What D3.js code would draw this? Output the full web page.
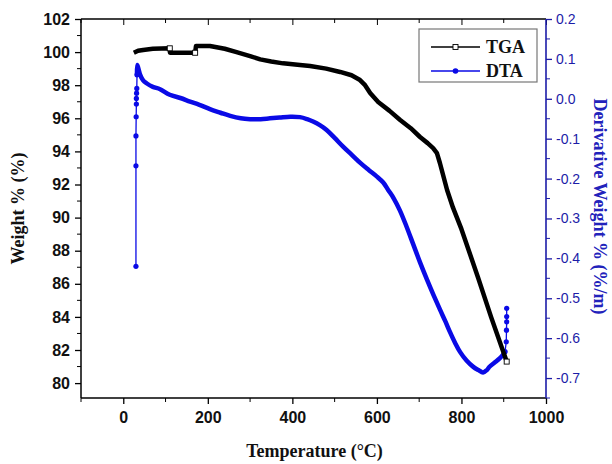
<!DOCTYPE html>
<html>
<head>
<meta charset="utf-8">
<script src="https://cdn.jsdelivr.net/npm/d3@7/dist/d3.min.js"></script>
<style>
  html, body { margin: 0; padding: 0; background: #fff; }
  svg { display: block; }
</style>
</head>
<body>
<svg id="chart" width="612" height="464"></svg>
<script>
// Thermogravimetric curve: temperature (°C) vs weight %
const tgaTemp = [25, 35, 47, 70, 110, 110.5, 140, 170, 172, 205, 240, 268, 300, 324, 350, 378, 418, 442, 480, 513, 540, 560, 572, 584, 603, 630, 655, 680, 702, 720, 733, 742, 749, 766, 780, 800, 839, 870, 907];
const tgaWeight = [99.96, 100.08, 100.13, 100.2, 100.23, 99.96, 99.96, 99.96, 100.37, 100.37, 100.2, 100.0, 99.76, 99.56, 99.43, 99.32, 99.22, 99.16, 99.0, 98.8, 98.6, 98.31, 98.0, 97.53, 96.99, 96.45, 95.9, 95.4, 94.87, 94.5, 94.2, 93.9, 93.3, 91.67, 90.6, 89.3, 86.4, 84.0, 81.3];
// indices of the TGA points that show an open square marker
const tgaMarked = [4, 7, 38];

// Derivative curve: temperature (°C) vs derivative weight % (%/m)
const dtaTemp = [30, 30, 30, 30.5, 31, 31, 31.5, 32, 32.5, 33, 36, 40, 47, 55, 70, 87, 110, 135, 158, 180, 205, 230, 253, 278, 300, 325, 347, 370, 395, 418, 435, 449, 465, 481, 500, 520, 540, 562, 580, 600, 615, 627, 640, 654, 670, 686, 702, 718, 734, 749, 762, 773, 785, 797, 812, 828, 840, 851, 860, 867, 880, 891, 898, 903, 906, 906.5, 907, 907, 907];
const dtaDeriv = [-0.42, -0.168, -0.093, -0.045, -0.013, 0.001, 0.014, 0.026, 0.06, 0.085, 0.075, 0.06, 0.046, 0.039, 0.03, 0.024, 0.01, 0.002, -0.007, -0.015, -0.026, -0.035, -0.043, -0.049, -0.051, -0.051, -0.049, -0.047, -0.045, -0.046, -0.051, -0.057, -0.066, -0.078, -0.098, -0.12, -0.14, -0.162, -0.178, -0.195, -0.21, -0.229, -0.25, -0.279, -0.32, -0.365, -0.41, -0.452, -0.492, -0.528, -0.558, -0.585, -0.612, -0.635, -0.656, -0.672, -0.68, -0.686, -0.68, -0.671, -0.66, -0.65, -0.642, -0.634, -0.609, -0.58, -0.559, -0.546, -0.525];

// Axis ticks
const xTicks = [0, 200, 400, 600, 800, 1000];
const xMinor = [-100, 100, 300, 500, 700, 900];
const yLeftTicks = [80, 82, 84, 86, 88, 90, 92, 94, 96, 98, 100, 102];
const yLeftMinor = [81, 83, 85, 87, 89, 91, 93, 95, 97, 99, 101];
const yRightTicks = [-0.7, -0.6, -0.5, -0.4, -0.3, -0.2, -0.1, 0.0, 0.1, 0.2];
const yRightMinor = [-0.75, -0.65, -0.55, -0.45, -0.35, -0.25, -0.15, -0.05, 0.05, 0.15];

const seriesNames = ["TGA", "DTA"];

const svg = d3.select("#chart");
const L = 81, R = 546, T = 19, B = 398;
const blueAxis = "#1c1ca8";
const blueLine = "#0a0ae6";

const x = d3.scaleLinear().domain([-100, 1000]).range([L, R]);
const yL = d3.scaleLinear().domain([79.1, 102]).range([B, T]);
const yR = d3.scaleLinear().domain([-0.75, 0.2]).range([B, T]);

const sansBold = "'Liberation Sans', Arial, sans-serif";
const serif = "'Liberation Serif', 'Times New Roman', serif";

// Bottom axis
const gx = svg.append("g").attr("transform", `translate(0,${B})`)
  .call(d3.axisBottom(x).tickValues(xTicks).tickFormat(d3.format("d")).tickSize(6).tickPadding(8));
gx.append("g").selectAll("line").data(xMinor).join("line")
  .attr("x1", d => x(d)).attr("x2", d => x(d)).attr("y1", 0).attr("y2", 4).attr("stroke", "#000");
gx.select(".domain").attr("d", `M${L},0H${R}`).attr("stroke-width", 1.5);
gx.selectAll(".tick line").attr("stroke-width", 1.3);
gx.selectAll("text").attr("font-family", sansBold).attr("font-weight", "bold").attr("font-size", 16).attr("fill", "#111");

// Top axis (ticks point inward, no labels)
const gt = svg.append("g").attr("transform", `translate(0,${T})`)
  .call(d3.axisBottom(x).tickValues(xTicks).tickFormat("").tickSize(6));
gt.append("g").selectAll("line").data(xMinor).join("line")
  .attr("x1", d => x(d)).attr("x2", d => x(d)).attr("y1", 0).attr("y2", 4).attr("stroke", "#000");
gt.select(".domain").attr("d", `M${L},0H${R}`).attr("stroke-width", 1.3);

// Left axis
const gl = svg.append("g").attr("transform", `translate(${L},0)`)
  .call(d3.axisLeft(yL).tickValues(yLeftTicks).tickFormat(d3.format("d")).tickSize(6).tickPadding(5));
gl.append("g").selectAll("line").data(yLeftMinor).join("line")
  .attr("x1", 0).attr("x2", -4).attr("y1", d => yL(d)).attr("y2", d => yL(d)).attr("stroke", "#000");
gl.select(".domain").attr("d", `M0,${T}V${B}`).attr("stroke-width", 1.5);
gl.selectAll(".tick line").attr("stroke-width", 1.3);
gl.selectAll("text").attr("font-family", sansBold).attr("font-weight", "bold").attr("font-size", 16).attr("fill", "#111");

// Right axis (derivative scale, blue)
const gr = svg.append("g").attr("transform", `translate(${R},0)`)
  .call(d3.axisRight(yR).tickValues(yRightTicks).tickFormat(d3.format(".1f")).tickSize(6).tickPadding(4));
gr.append("g").selectAll("line").data(yRightMinor).join("line")
  .attr("x1", 0).attr("x2", 4).attr("y1", d => yR(d)).attr("y2", d => yR(d)).attr("stroke", blueAxis);
gr.select(".domain").attr("d", `M0,${T}V${B}`).attr("stroke", blueAxis).attr("stroke-width", 1.6);
gr.selectAll(".tick line").attr("stroke", blueAxis).attr("stroke-width", 1.3);
gr.selectAll("text").attr("font-family", "'Liberation Sans', Arial, sans-serif").attr("font-size", 14).attr("fill", blueAxis)
  .text(d => d3.format(".1f")(d).replace("−", "-"));

// Axis titles
svg.append("text").attr("x", (L + R) / 2 + 1).attr("y", 457).attr("text-anchor", "middle")
  .attr("font-family", serif).attr("font-weight", "bold").attr("font-size", 18).attr("fill", "#111")
  .text("Temperature (°C)");
svg.append("text").attr("transform", `translate(24,${(T + B) / 2}) rotate(-90)`).attr("text-anchor", "middle")
  .attr("font-family", serif).attr("font-weight", "bold").attr("font-size", 18).attr("fill", "#111")
  .text("Weight % (%)");
svg.append("text").attr("transform", `translate(594,${(T + B) / 2 - 2}) rotate(90)`).attr("text-anchor", "middle")
  .attr("font-family", serif).attr("font-weight", "bold").attr("font-size", 18).attr("fill", "#2222bb")
  .text("Derivative Weight % (%/m)");

// Curves
const tgaData = tgaTemp.map((t, i) => ({ t, v: tgaWeight[i] }));
const dtaData = dtaTemp.map((t, i) => ({ t, v: dtaDeriv[i] }));

const plot = svg.append("g");
plot.append("path").datum(dtaData)
  .attr("d", d3.line().x(d => x(d.t)).y(d => yR(d.v)).curve(d3.curveLinear))
  .attr("fill", "none").attr("stroke", blueLine).attr("stroke-width", 1.3);
// thick body of the DTA trace (beyond the spike)
plot.append("path").datum(dtaData.slice(8, 64))
  .attr("d", d3.line().x(d => x(d.t)).y(d => yR(d.v)).curve(d3.curveCatmullRom.alpha(0.5)))
  .attr("fill", "none").attr("stroke", blueLine).attr("stroke-width", 4.5).attr("stroke-linejoin", "round").attr("stroke-linecap", "round");
plot.append("g").selectAll("circle").data(dtaData.slice(0, 9).concat(dtaData.slice(63))).join("circle")
  .attr("cx", d => x(d.t)).attr("cy", d => yR(d.v)).attr("r", 2.6).attr("fill", blueLine);

plot.append("path").datum(tgaData)
  .attr("d", d3.line().x(d => x(d.t)).y(d => yL(d.v)))
  .attr("fill", "none").attr("stroke", "#000").attr("stroke-width", 4.5).attr("stroke-linejoin", "round");
plot.append("g").selectAll("rect").data(tgaMarked.map(i => tgaData[i])).join("rect")
  .attr("x", d => x(d.t) - 2.5).attr("y", d => yL(d.v) - 2.5).attr("width", 5).attr("height", 5)
  .attr("fill", "#fff").attr("stroke", "#000").attr("stroke-width", 0.9);

// Legend
const lg = svg.append("g").attr("transform", "translate(419,29)");
lg.append("rect").attr("width", 118).attr("height", 53).attr("fill", "#fff").attr("stroke", "#777").attr("stroke-width", 1.2);
const legendRows = [
  { name: seriesNames[0], color: "#000", mark: "square" },
  { name: seriesNames[1], color: blueLine, mark: "circle" }
];
legendRows.forEach((r, i) => {
  const yy = 18 + i * 24;
  lg.append("line").attr("x1", 12).attr("x2", 61).attr("y1", yy).attr("y2", yy).attr("stroke", r.color).attr("stroke-width", 1.4);
  if (r.mark === "square") {
    lg.append("rect").attr("x", 34).attr("y", yy - 2.5).attr("width", 5).attr("height", 5).attr("fill", "#fff").attr("stroke", "#000").attr("stroke-width", 0.9);
  } else {
    lg.append("circle").attr("cx", 36.5).attr("cy", yy).attr("r", 2.8).attr("fill", r.color);
  }
  lg.append("text").attr("x", 67).attr("y", yy + 6).attr("font-family", serif).attr("font-weight", "bold").attr("font-size", 18).attr("fill", "#111").text(r.name);
});
</script>
</body>
</html>
